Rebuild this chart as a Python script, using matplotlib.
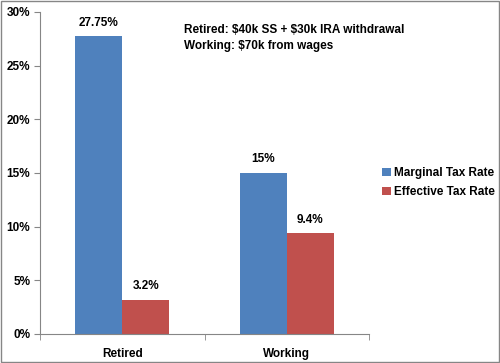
import matplotlib.pyplot as plt
from matplotlib.patches import Rectangle
import numpy as np

categories = ["Retired", "Working"]
marginal = [27.75, 15.0]
effective = [3.2, 9.4]
marginal_labels = ["27.75%", "15%"]
effective_labels = ["3.2%", "9.4%"]

blue = "#4f81bd"
red = "#c0504d"
font = "Liberation Sans"
fs = 8.5

fig = plt.figure(figsize=(5, 3.63), dpi=100)
ax = fig.add_axes([0.08, 0.08, 0.658, 0.887])

x = np.arange(len(categories))
w = 0.285
b1 = ax.bar(x - w / 2, marginal, w, color=blue, label="Marginal Tax Rate")
b2 = ax.bar(x + w / 2, effective, w, color=red, label="Effective Tax Rate")

for bars, labels in [(b1, marginal_labels), (b2, effective_labels)]:
    for bar, lab in zip(bars, labels):
        ax.text(bar.get_x() + bar.get_width() / 2, bar.get_height() + 0.7, lab,
                ha="center", va="bottom", fontsize=fs, fontweight="bold", family=font)

ax.set_xlim(-0.5, 1.5)
ax.set_ylim(0, 30)
ax.set_yticks(range(0, 31, 5))
ax.set_yticklabels([f"{v}%" for v in range(0, 31, 5)], fontsize=fs, fontweight="bold", family=font)
ax.set_xticks(x)
ax.set_xticklabels(categories, fontsize=fs, fontweight="bold", family=font)
ax.tick_params(axis="x", length=0, pad=10)
ax.set_xticks([-0.5, 0.5, 1.5], minor=True)
ax.tick_params(axis="x", which="minor", length=4, color="#868686")
ax.tick_params(axis="y", length=4, color="#868686", pad=3)

for s in ["top", "right"]:
    ax.spines[s].set_visible(False)
for s in ["left", "bottom"]:
    ax.spines[s].set_color("#868686")

ax.text(0.437, 0.962, "Retired: \\$40k SS + \\$30k IRA withdrawal\nWorking: \\$70k from wages",
        transform=ax.transAxes, ha="left", va="top", fontsize=fs, fontweight="bold",
        family=font, linespacing=1.45)

leg = fig.legend(loc="center left", bbox_to_anchor=(0.764, 0.497), frameon=False,
                 prop={"family": font, "weight": "bold", "size": 8.5},
                 handlelength=0.75, handleheight=0.75, handletextpad=0.25, labelspacing=0.6,
                 borderaxespad=0, borderpad=0)

fig.patches.append(Rectangle((0.002, 0.003), 0.995, 0.994, transform=fig.transFigure,
                             fill=False, edgecolor="#868686", linewidth=1))

fig.savefig("out.png", dpi=100)
